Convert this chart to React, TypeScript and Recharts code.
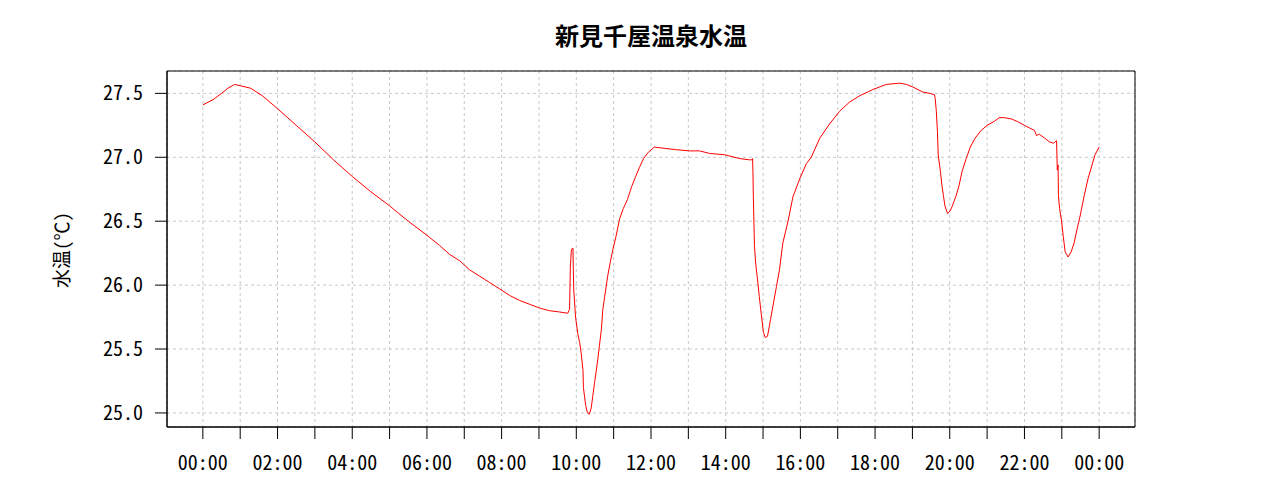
import { LineChart, Line, XAxis, YAxis, CartesianGrid, ReferenceArea } from 'recharts'

// time of day in hours (rows of 10)
const hours = [
  0.0, 0.27, 0.5, 0.67, 0.85, 1.0, 1.28, 1.44, 1.6, 2.0,
  2.5, 3.0, 3.5, 4.0, 4.5, 5.0, 5.5, 6.0, 6.34, 6.61,
  6.88, 7.14, 7.41, 7.68, 7.95, 8.21, 8.48, 8.75, 9.02, 9.28,
  9.55, 9.77, 9.82, 9.84, 9.87, 9.91, 9.93, 9.98, 10.04, 10.09,
  10.13, 10.18, 10.19, 10.25, 10.3, 10.35, 10.4, 10.44, 10.49, 10.53,
  10.58, 10.62, 10.67, 10.71, 10.76, 10.84, 10.91, 10.98, 11.07, 11.16,
  11.26, 11.37, 11.48, 11.59, 11.69, 11.8, 11.93, 12.09, 12.36, 12.66,
  13.03, 13.3, 13.57, 13.97, 14.37, 14.64, 14.7, 14.72, 14.73, 14.74,
  14.77, 14.8, 14.85, 14.9, 14.95, 15.01, 15.06, 15.12, 15.2, 15.28,
  15.36, 15.44, 15.53, 15.67, 15.8, 15.98, 16.16, 16.29, 16.52, 16.78,
  17.05, 17.31, 17.58, 17.94, 18.3, 18.66, 18.84, 19.01, 19.28, 19.46,
  19.59, 19.61, 19.64, 19.67, 19.69, 19.75, 19.79, 19.83, 19.87, 19.94,
  20.01, 20.07, 20.17, 20.25, 20.33, 20.44, 20.55, 20.68, 20.84, 21.0,
  21.19, 21.32, 21.46, 21.65, 21.81, 22.0, 22.13, 22.27, 22.32, 22.4,
  22.54, 22.67, 22.78, 22.86, 22.88, 22.9, 22.91, 22.94, 22.99, 23.04,
  23.09, 23.17, 23.25, 23.33, 23.41, 23.49, 23.6, 23.7, 23.81, 23.89,
  24.0,
]

// water temperature (°C), same rows
const temps = [
  27.41, 27.45, 27.5, 27.54, 27.57, 27.56, 27.54, 27.51, 27.48, 27.38,
  27.25, 27.12, 26.98, 26.85, 26.73, 26.62, 26.5, 26.39, 26.31, 26.24,
  26.19, 26.12, 26.07, 26.02, 25.97, 25.92, 25.88, 25.85, 25.82, 25.8,
  25.79, 25.78, 25.81, 26.14, 26.28, 26.29, 25.97, 25.75, 25.62, 25.55,
  25.47, 25.33, 25.2, 25.06, 25.0, 24.99, 25.04, 25.13, 25.24, 25.32,
  25.43, 25.53, 25.65, 25.81, 25.91, 26.07, 26.18, 26.28, 26.39, 26.52,
  26.6, 26.67, 26.77, 26.85, 26.92, 26.99, 27.04, 27.08, 27.07, 27.06,
  27.05, 27.05, 27.03, 27.02, 26.99, 26.98, 26.98, 26.99, 26.88, 26.7,
  26.31, 26.18, 26.05, 25.91, 25.78, 25.63, 25.59, 25.6, 25.73, 25.86,
  25.99, 26.12, 26.33, 26.5, 26.69, 26.83, 26.95, 27.0, 27.15, 27.26,
  27.36, 27.43, 27.48, 27.53, 27.57, 27.58, 27.57, 27.55, 27.51, 27.5,
  27.49, 27.46, 27.36, 27.2, 27.02, 26.89, 26.78, 26.7, 26.62, 26.56,
  26.58, 26.62, 26.7, 26.78, 26.89, 26.99, 27.08, 27.15, 27.21, 27.25,
  27.28, 27.31, 27.31, 27.3, 27.28, 27.25, 27.23, 27.21, 27.17, 27.18,
  27.15, 27.12, 27.11, 27.13, 26.9, 26.94, 26.7, 26.6, 26.51, 26.38,
  26.26, 26.22, 26.26, 26.33, 26.44, 26.54, 26.7, 26.83, 26.94, 27.02,
  27.08,
]

const hourTicks = [0, 1, 2, 3, 4, 5, 6, 7, 8, 9, 10, 11, 12, 13, 14, 15, 16, 17, 18, 19, 20, 21, 22, 23, 24]
const tempTicks = [25.0, 25.5, 26.0, 26.5, 27.0, 27.5]

const xDomain: [number, number] = [-0.96, 24.96]
const yDomain: [number, number] = [24.89, 27.675]

const data = hours.map((h, i) => ({ h, temp: temps[i] }))

const tickFont = { fontSize: 20, fill: '#000', fontFamily: '"Noto Sans Mono CJK JP", "DejaVu Sans Mono"' }

const fmtHour = (h: number) => (h % 2 === 0 ? `${String(h % 24).padStart(2, '0')}:00` : '')

export default function App() {
  return (
    <div style={{ position: 'absolute', left: 0, top: 0, width: 1280, height: 500, background: '#fff' }}>
      <div
        style={{
          position: 'absolute', left: 167, top: 23, width: 968, textAlign: 'center',
          fontFamily: '"Noto Sans CJK JP"', fontWeight: 700, fontSize: 24, lineHeight: '24px', color: '#000',
        }}
      >
        新見千屋温泉水温
      </div>
      <div
        style={{
          position: 'absolute', left: 60, top: 250, transform: 'translate(-50%, -50%) rotate(-90deg)',
          fontFamily: '"Noto Sans Mono CJK JP", "Noto Sans CJK JP"', fontSize: 19, lineHeight: '19px', whiteSpace: 'nowrap', color: '#000',
        }}
      >
        水温(℃)
      </div>
      <LineChart width={1280} height={500} data={data} margin={{ top: 71, right: 145, bottom: 0, left: 0 }}>
        <CartesianGrid stroke="#c8c8c8" strokeDasharray="3 3" />
        <XAxis
          dataKey="h"
          type="number"
          domain={xDomain}
          ticks={hourTicks}
          interval={0}
          allowDataOverflow
          tickFormatter={fmtHour}
          tick={tickFont}
          tickSize={12}
          tickMargin={17}
          height={73}
          stroke="#000"
        />
        <YAxis
          type="number"
          domain={yDomain}
          ticks={tempTicks}
          interval={0}
          allowDataOverflow
          tickFormatter={(v: number) => v.toFixed(1)}
          tick={tickFont}
          tickSize={12}
          tickMargin={12}
          width={167}
          stroke="#000"
        />
        <ReferenceArea x1={xDomain[0]} x2={xDomain[1]} y1={yDomain[0]} y2={yDomain[1]} fill="none" stroke="#000" strokeOpacity={1} />
        <Line
          type="linear"
          dataKey="temp"
          stroke="#ff0000"
          strokeWidth={1}
          dot={false}
          isAnimationActive={false}
        />
      </LineChart>
    </div>
  )
}
